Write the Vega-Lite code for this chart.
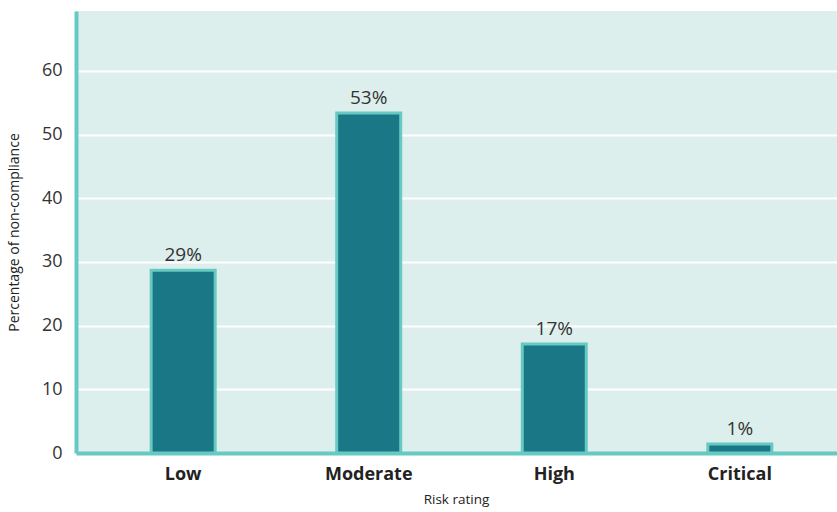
{
  "$schema": "https://vega.github.io/schema/vega-lite/v6.json",
  "width": 771,
  "height": 442,
  "autosize": "none",
  "padding": {"left": 76, "top": 11, "right": 0, "bottom": 59},
  "background": "white",
  "config": {
    "view": {"fill": "#ddefed", "stroke": null},
    "font": "Open Sans"
  },
  "data": {
    "values": [
      {"risk": "Low", "pct": 28.7, "label": "29%"},
      {"risk": "Moderate", "pct": 53.4, "label": "53%"},
      {"risk": "High", "pct": 17.1, "label": "17%"},
      {"risk": "Critical", "pct": 1.4, "label": "1%"}
    ]
  },
  "encoding": {
    "x": {
      "field": "risk",
      "type": "nominal",
      "sort": null,
      "scale": {"paddingInner": 0.655, "paddingOuter": 0.405},
      "axis": {
        "title": "Risk rating",
        "titleFont": "Open Sans",
        "titleFontSize": 13.5,
        "titleFontWeight": "normal",
        "titleColor": "#222",
        "titlePadding": 9,
        "titleX": 380,
        "labelAngle": 0,
        "labelFont": "Open Sans",
        "labelFontSize": 18,
        "labelFontWeight": "bold",
        "labelColor": "#222",
        "labelPadding": 12,
        "ticks": false,
        "domainColor": "#66cac3",
        "domainWidth": 4,
        "grid": false
      }
    },
    "y": {
      "field": "pct",
      "type": "quantitative",
      "scale": {"domain": [0, 69.4], "nice": false},
      "axis": {
        "title": "Percentage of non-compliance",
        "titleFont": "Open Sans",
        "titleFontSize": 14,
        "titleFontWeight": "normal",
        "titleColor": "#222",
        "titlePadding": 20,
        "values": [0, 10, 20, 30, 40, 50, 60],
        "labelFont": "Open Sans",
        "labelFontSize": 18,
        "labelColor": "#333",
        "labelPadding": 14,
        "ticks": false,
        "domainColor": "#66cac3",
        "domainWidth": 4,
        "grid": true,
        "gridColor": "white",
        "gridWidth": 2
      }
    }
  },
  "layer": [
    {
      "mark": {"type": "bar", "fill": "#1a7786", "stroke": "#66cac3", "strokeWidth": 3}
    },
    {
      "mark": {"type": "text", "baseline": "bottom", "dy": -5, "fontSize": 19, "color": "#333", "font": "Open Sans"},
      "encoding": {"text": {"field": "label"}}
    }
  ]
}
